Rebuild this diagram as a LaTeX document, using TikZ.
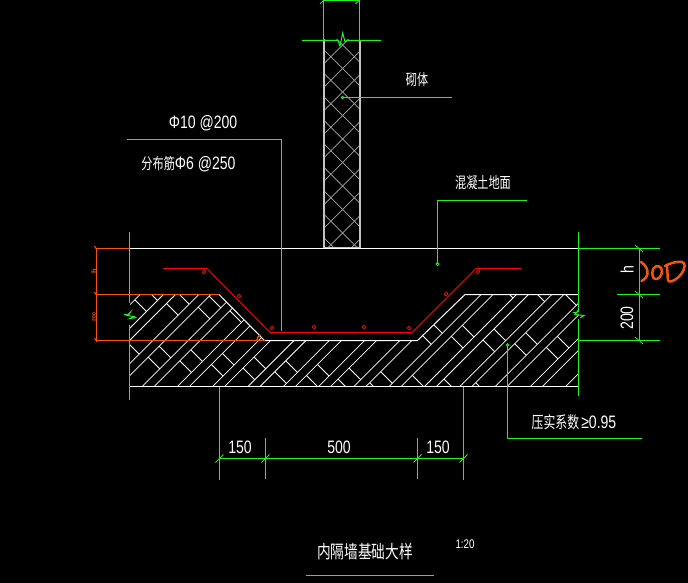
\documentclass[tikz,border=0pt]{standalone}
\usepackage{fontspec}
\setmainfont{Liberation Sans}
\newfontfamily\cadcjk[FakeStretch=0.72]{Noto Sans CJK SC}
\newfontfamily\cadtitle[FakeStretch=0.76]{Noto Sans CJK SC}
\newfontfamily\cadlat[FakeStretch=0.78]{Liberation Sans}
\definecolor{cadgreen}{RGB}{30,245,30}
\definecolor{cadred}{RGB}{255,0,0}
\definecolor{cadorange}{RGB}{245,85,10}
\definecolor{cadwall}{RGB}{195,195,195}
\tikzset{
  grn/.style={draw=cadgreen,line width=1pt},
  ext/.style={draw=white,line width=1pt},
  org/.style={draw=cadorange,line width=1pt},
  bar/.style={draw=cadred,line width=1.3pt},
  stirrup/.style={draw=cadred,line width=0.9pt},
  ring/.style={draw=cadred,line width=0.7pt},
  lbl/.style={text=white,inner sep=0pt,font=\cadlat\fontsize{18}{18}\selectfont},
  cjk/.style={text=white,inner sep=0pt,font=\cadcjk\fontsize{15.5}{15.5}\selectfont},
  hatchline/.style={draw=white,line width=0.75pt},
  tick/.style={draw=cadgreen,line width=0.8pt},
  scribble/.style={draw=cadorange,line width=2.5pt,line cap=round,line join=round},
}
\begin{document}
\begin{tikzpicture}[x=1pt,y=-1pt]
\path[fill=black] (0,0) rectangle (688,583);
\useasboundingbox (0,0) rectangle (688,583);

% compacted soil hatch
\begin{scope}
\clip (130,294.5)--(219,294.5)--(264.5,340.5)--(417.5,340.5)--(465,294.5)--(578.5,294.5)--(578.5,386.5)--(130,386.5)--cycle;
\foreach \k in {-12,...,6}{
  \pgfmathsetmacro{\ca}{811+35.3*\k}
  \pgfmathsetmacro{\cb}{823+35.3*\k}
  \pgfmathsetmacro{\cc}{846.3+35.3*\k}
  \draw[hatchline] (\ca-260,260)--(\ca-420,420);
  \draw[hatchline] (\cb-260,260)--(\cb-420,420);
  \foreach \m in {-3,...,4}{
    \pgfmathsetmacro{\da}{43+28*\k+100*\m}
    \pgfmathsetmacro{\db}{\da+22}
    \draw[hatchline] ({(\cb+\da)/2},{(\cb-\da)/2})--({(\cc+\da)/2},{(\cc-\da)/2});
    \draw[hatchline] ({(\cb+\db)/2},{(\cb-\db)/2})--({(\cc+\db)/2},{(\cc-\db)/2});
  }
}
\end{scope}
\draw[ext] (219,294.5)--(264.5,340.5)--(417.5,340.5)--(465,294.5)--(578.5,294.5);
\draw[ext] (130,386.5)--(578.5,386.5);

% wall
\begin{scope}
\clip (324,40) rectangle (360,248);
\foreach \k in {-1,...,10}{
  \pgfmathsetmacro{\ca}{387.7+23.5*\k}
  \pgfmathsetmacro{\da}{297.7-23.5*\k}
  \draw[draw=cadwall!85!black,line width=0.7pt] (\ca-30,30)--(\ca-260,260);
  \draw[draw=cadwall!85!black,line width=0.7pt] (\da+30,30)--(\da+260,260);
}
\end{scope}
\draw[draw=cadwall,line width=2pt] (324,40)--(324,248) (360,40)--(360,248);
\draw[draw=cadwall,line width=0.8pt] (324,247.5)--(360,247.5);

% ground line
\draw[ext] (130,248.5)--(578.5,248.5);

% wall top and break line
\draw[grn] (323.5,40.5)--(323.5,0.5)--(359.5,0.5)--(359.5,40.5);
\draw[grn] (302,40.5)--(338,40.5)--(340,46)--(342.7,33)--(345,41.7)--(347,40.5)--(381,40.5);
\draw[tick] (320,4)--(325,-1) (355.5,4)--(360.5,-1);

% side edges with break marks
\draw[grn] (129.5,232)--(129.5,303);
\draw[grn] (129.5,325)--(129.5,400);
\draw[grn] (124,314.5)--(129,314.5)--(130.5,312)--(127,315.5)--(134,316.5)--(130,318.5)--(136.5,317.5);
\draw[grn] (578.5,232)--(578.5,312);
\draw[grn] (578.5,319)--(578.5,396);
\draw[grn] (572.5,312.5)--(577,312.5)--(578.5,310)--(575,314.5)--(584,315.5)--(580,318);

% orange dimension on the left
\draw[org] (96.5,248.5)--(129,248.5) (96.5,294.5)--(219,294.5) (96.5,340.5)--(264.5,340.5) (96.5,248)--(96.5,341);
\draw[org] (94.5,246)--(97,250) (94.5,292)--(97,296) (94.5,338)--(97,342);
\draw[draw=cadorange,line width=1.4pt] (257,340) .. controls (257.5,337) and (258.5,335.5) .. (260.5,335);
\node[text=cadorange,inner sep=0pt,rotate=90,font=\bfseries\fontsize{7.5}{7.5}\selectfont] (dimleft1) at (94,271) {h};
\node[text=cadorange,inner sep=0pt,rotate=90,font=\bfseries\fontsize{5}{5}\selectfont] (dimleft2) at (94,317) {200};

% reinforcement
\draw[bar] (163,268.5)--(207,268.5);
\draw[stirrup] (207,268.5)--(270,332.5);
\draw[bar] (270,332.5)--(412,332.5);
\draw[stirrup] (412,332.5)--(476,268.5);
\draw[bar] (476,268.5)--(521,268.5);
\foreach \p in {(204,272),(239,296),(272,328),(314,327),(364,327),(409,328),(446,294),(478,272)}
  \draw[ring] \p circle (1.9);

% right dimensions
\draw[grn] (578.5,248.5)--(660,248.5) (617,294.5)--(660,294.5) (578.5,340.5)--(660,340.5) (639.5,248.5)--(639.5,340.5);
\draw[tick] (635,245)--(643,252) (635,291)--(643,298) (635,337)--(643,344);
\node[lbl,rotate=90] (dimh) at (627,270) {h};
\node[lbl,rotate=90] (dim200) at (627,318) {200};

% handwritten note
\draw[scribble] (641,262) .. controls (646,265) and (648,270) .. (647.5,274) .. controls (647,277) and (644,280) .. (641.5,281);
\draw[scribble] (653,269) .. controls (656,264) and (662,266) .. (662,271) .. controls (662,276) and (658,280) .. (655,279) .. controls (652,278) and (652,273) .. (653,269);
\draw[scribble] (665,266) .. controls (670,263) and (678,261) .. (682,262) .. controls (686,263) and (685,268) .. (682,273) .. controls (678,279) and (672,282) .. (669,281.5) .. controls (667,281) and (668,274) .. (667,267);

% bottom dimensions
\draw[grn] (219.5,386.5)--(219.5,480) (265.5,438)--(265.5,479) (417.5,438)--(417.5,479) (463.5,386.5)--(463.5,480) (219,458.5)--(463.5,458.5);
\draw[tick] (215.5,462.5)--(223.5,454.5) (261.5,462.5)--(269.5,454.5) (413.5,462.5)--(421.5,454.5) (459.5,462.5)--(467.5,454.5);
\node[lbl] (d150a) at (240,447) {150};
\node[lbl] (d500) at (339,447) {500};
\node[lbl] (d150b) at (438,447) {150};

% labels and leaders
\node[cjk] (wall) at (417,80) {砌体};
\coordinate (wallTip) at (342.5,97.5);
\coordinate (wallEnd) at (452,97.5);
\draw[grn] (wallTip)--(wallEnd);
\draw[grn,line width=0.8pt] (wallTip) circle (1.3);

\node[lbl] (rebarA) at (203,123) {Φ10 @200};
\node[text=white,inner sep=0pt] (rebarB) at (188.5,164) {{\cadcjk\fontsize{15.5}{15.5}\selectfont 分布筋}{\cadlat\fontsize{18}{18}\selectfont Φ6 @250}};
\coordinate (rebarStart) at (127,139.5);
\coordinate (rebarCorner) at (281.5,139.5);
\coordinate (rebarTip) at (281.5,331);
\draw[grn] (rebarStart)--(rebarCorner)--(rebarTip);

\node[cjk] (floor) at (483,183) {混凝土地面};
\coordinate (floorTip) at (437.5,264);
\coordinate (floorCorner) at (437.5,200.5);
\coordinate (floorEnd) at (527,200.5);
\draw[grn] (floorTip)--(floorCorner)--(floorEnd);
\draw[grn,line width=0.8pt] (floorTip) circle (1.6);

\node[text=white,inner sep=0pt] (compact) at (574,422) {{\cadcjk\fontsize{16.5}{16.5}\selectfont 压实系数}\hspace{2pt}{\cadlat\fontsize{18}{18}\selectfont ≥0.95}};
\coordinate (compactTip) at (507.5,345);
\coordinate (compactCorner) at (507.5,438.5);
\coordinate (compactEnd) at (642,438.5);
\draw[grn] (compactTip)--(compactCorner)--(compactEnd);
\draw[grn,line width=0.8pt] (compactTip) circle (1.2);

% title
\node[text=white,inner sep=0pt,font=\cadtitle\fontsize{18}{18}\selectfont] (title) at (365,552) {内隔墙基础大样};
\node[text=white,inner sep=0pt,font=\cadlat\fontsize{12.5}{12.5}\selectfont] (scale) at (465,544) {1:20};
\coordinate (titleA) at (306,575.5);
\coordinate (titleB) at (434,575.5);
\draw[grn] (titleA)--(titleB);
\end{tikzpicture}
\end{document}
